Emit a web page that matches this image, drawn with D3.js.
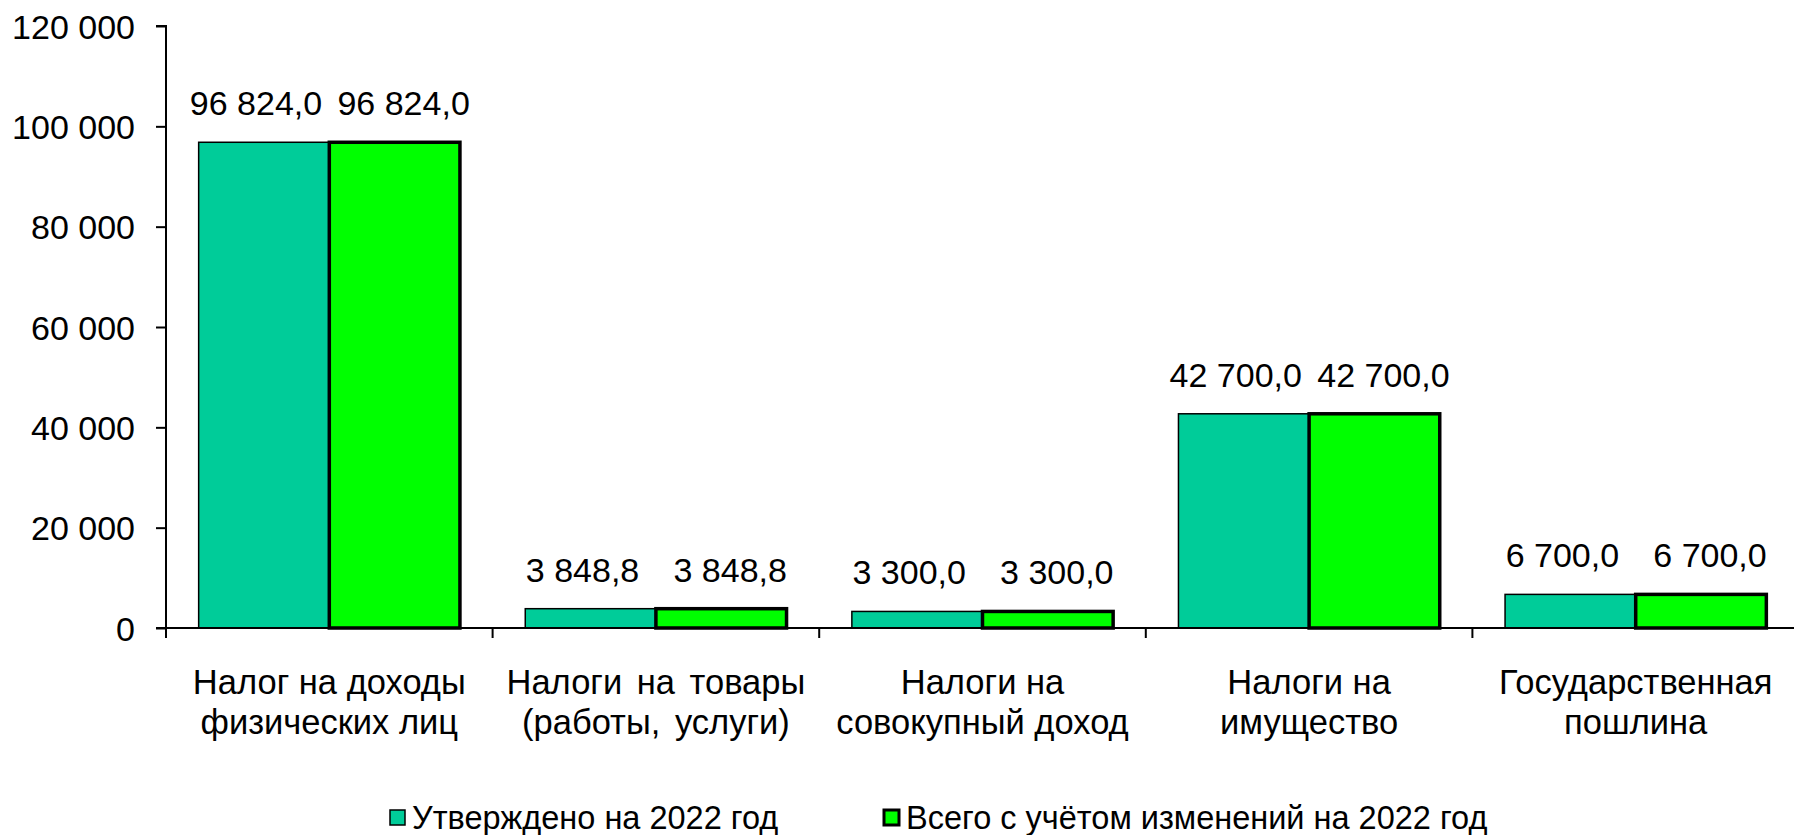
<!DOCTYPE html>
<html>
<head>
<meta charset="utf-8">
<script src="https://cdn.jsdelivr.net/npm/d3@7"></script>
<style>
  body { margin: 0; background: #fff; }
  text { font-family: "Liberation Sans", Arial, sans-serif; fill: #000; }
</style>
</head>
<body>
<div id="chart"></div>
<script>
// data
var categories = [
  ["Налог на доходы", "физических лиц"],
  ["Налоги на товары", "(работы, услуги)"],
  ["Налоги на", "совокупный доход"],
  ["Налоги на", "имущество"],
  ["Государственная", "пошлина"]
];
var seriesNames = ["Утверждено на 2022 год", "Всего с учётом изменений на 2022 год"];
var approved = [96824.0, 3848.8, 3300.0, 42700.0, 6700.0];
var revised = [96824.0, 3848.8, 3300.0, 42700.0, 6700.0];
var yTicks = [0, 20000, 40000, 60000, 80000, 100000, 120000];

var colors = ["#00CC99", "#00FF00"];
var strokeW = [1.5, 3.5];
var labelDx = [-8, 9];  // labels pushed apart a bit, as in the original

var width = 1794, height = 835;
var margin = {top: 26, right: -5, bottom: 207, left: 166};

var loc = d3.formatLocale({decimal: ",", thousands: " ", grouping: [3], currency: ["", ""]});
var fmtTick = loc.format(",.0f");
var fmtLabel = loc.format(",.1f");

var svg = d3.select("#chart").append("svg")
    .attr("width", width).attr("height", height);
var g = svg.append("g")
    .attr("transform", "translate(" + margin.left + "," + margin.top + ")");

var w = width - margin.left - margin.right,
    h = height - margin.top - margin.bottom;

var x = d3.scaleBand().domain(d3.range(categories.length)).range([0, w]).paddingInner(0).paddingOuter(0);
var xs = d3.scaleBand().domain([0, 1]).range([0, x.bandwidth()]).paddingInner(0).paddingOuter(0.25);
var y = d3.scaleLinear().domain([0, 120000]).range([h, 0]);

var series = [approved, revised];

series.forEach(function(vals, si) {
  g.selectAll(".bar" + si)
    .data(vals)
    .enter().append("rect")
      .attr("class", "bar" + si)
      .attr("x", function(d, i) { return x(i) + xs(si); })
      .attr("width", xs.bandwidth())
      .attr("y", function(d) { return y(d); })
      .attr("height", function(d) { return h - y(d); })
      .attr("fill", colors[si])
      .attr("stroke", "#000")
      .attr("stroke-width", strokeW[si]);

  g.selectAll(".lab" + si)
    .data(vals)
    .enter().append("text")
      .attr("class", "lab" + si)
      .attr("x", function(d, i) { return x(i) + xs(si) + xs.bandwidth() / 2 + labelDx[si]; })
      .attr("y", function(d) { return y(d) - 27; })
      .attr("text-anchor", "middle")
      .style("font-size", "34px")
      .text(function(d) { return fmtLabel(d); });
});

// y axis
var yAxis = g.append("g")
    .call(d3.axisLeft(y).tickValues(yTicks).tickFormat(fmtTick).tickSize(10).tickPadding(21));
yAxis.select(".domain").attr("stroke-width", 2).attr("d", "M0," + h + "V0H-10");
yAxis.selectAll(".tick line").attr("stroke-width", 2);
yAxis.selectAll(".tick text").style("font-size", "34px").attr("dy", "0.36em");

// x axis
var xAxisG = g.append("g").attr("transform", "translate(0," + h + ")");
xAxisG.append("line")
    .attr("x1", -10).attr("x2", w)
    .attr("stroke", "#000").attr("stroke-width", 2);
xAxisG.selectAll(".xt")
    .data(d3.range(categories.length + 1))
    .enter().append("line")
      .attr("x1", function(d) { return d * x.step(); })
      .attr("x2", function(d) { return d * x.step(); })
      .attr("y1", 0).attr("y2", 10)
      .attr("stroke", "#000").attr("stroke-width", 2);

var catText = xAxisG.selectAll(".cat")
    .data(categories)
    .enter().append("text")
      .attr("class", "cat")
      .attr("text-anchor", "middle")
      .style("font-size", "34.5px")
      .style("word-spacing", function(d, i) { return i === 1 ? "5px" : "0px"; })
      .attr("transform", function(d, i) { return "translate(" + (x(i) + x.bandwidth() / 2) + ",0)"; });
catText.selectAll("tspan")
    .data(function(d) { return d; })
    .enter().append("tspan")
      .attr("x", 0)
      .attr("y", function(d, i) { return 66 + i * 40; })
      .text(function(d) { return d; });

// legend
var legendX = [390, 884];
var leg = svg.selectAll(".leg")
    .data(seriesNames)
    .enter().append("g")
      .attr("transform", function(d, i) { return "translate(" + legendX[i] + ",810)"; });
leg.append("rect")
    .attr("width", 15).attr("height", 15)
    .attr("fill", function(d, i) { return colors[i]; })
    .attr("stroke", "#000")
    .attr("stroke-width", function(d, i) { return i ? 3 : 1.5; });
leg.append("text")
    .attr("x", 22).attr("y", 7.5).attr("dy", "0.36em")
    .style("font-size", "32.5px")
    .text(function(d) { return d; });
</script>
</body>
</html>
